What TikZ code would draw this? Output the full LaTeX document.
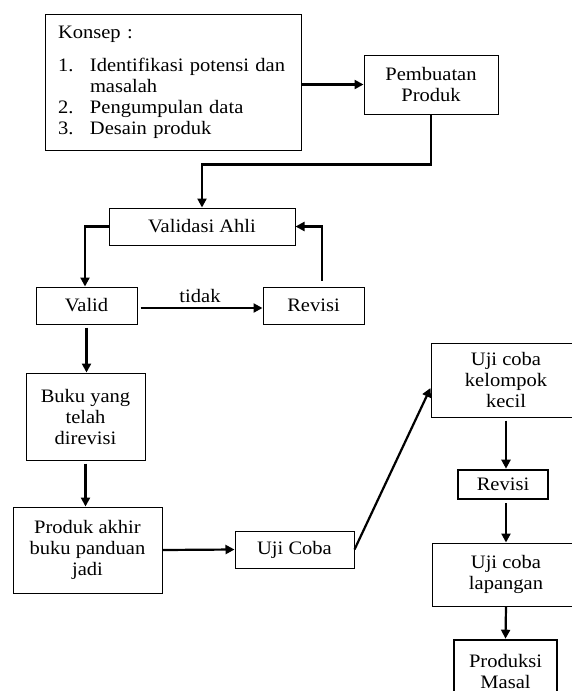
\documentclass[tikz,border=0pt]{standalone}
\usepackage{fontspec}
\setmainfont[FakeStretch=1.08]{Liberation Serif}
\usetikzlibrary{arrows.meta}

\begin{document}
\begin{tikzpicture}[x=1pt,y=-1pt,font=\fontsize{19}{21}\selectfont,
  box/.style={draw,line width=1pt,rectangle,align=center,inner sep=2pt},
  thickbox/.style={box,line width=2.6pt},
  arr/.style={line width=2.2pt,-{Triangle[length=9pt,width=9pt]}}]
  \useasboundingbox (0,0) rectangle (571,691);
  \node [box,minimum width=256pt,minimum height=136pt,text width=230pt,align=left] (konsep) at (173,82)
    {Konsep :\\[12pt]
     \makebox[32pt][l]{1.}Identifikasi potensi dan\\
     \hspace*{32pt}masalah\\
     \makebox[32pt][l]{2.}Pengumpulan data\\
     \makebox[32pt][l]{3.}Desain produk};
  \node [box,minimum width=134pt,minimum height=59pt] (pembuatan) at (431,84.5) {Pembuatan\\Produk};
  \node [box,minimum width=186pt,minimum height=37pt] (validasi) at (202,226.5) {Validasi Ahli};
  \node [box,minimum width=101pt,minimum height=37pt] (valid) at (86.5,305.5) {Valid};
  \node [box,minimum width=101pt,minimum height=37pt] (revisi) at (313.5,305.5) {Revisi};
  \node [box,minimum width=119pt,minimum height=87pt] (buku) at (85.5,416.5) {Buku yang\\telah\\direvisi};
  \node [box,minimum width=149pt,minimum height=86pt] (produk) at (87.5,550) {Produk akhir\\buku panduan\\jadi};
  \node [box,minimum width=119pt,minimum height=37pt] (ujicoba) at (294.5,549.5) {Uji Coba};
  \node [box,minimum width=150pt,minimum height=74pt] (kelompok) at (506,380) {Uji coba\\kelompok\\kecil};
  \node [thickbox,minimum width=90pt,minimum height=29pt] (revisiuji) at (503,484.5) {Revisi};
  \node [box,minimum width=148pt,minimum height=63pt] (lapangan) at (506,574.5) {Uji coba\\lapangan};
  \node [thickbox,minimum width=103pt,minimum height=62pt] (produksi) at (505.5,671) {Produksi\\Masal};
  \draw [arr] (konsep.east |- pembuatan.west) -- (pembuatan.west);
  \draw [arr] (pembuatan.south) -- ++(0,50) -| (validasi.north);
  \draw [arr] (validasi.west) -| ([xshift=-1.5pt]valid.north);
  \draw [arr,shorten <=3pt] ([yshift=-2.5pt]valid.east) -- ([yshift=-2.5pt]revisi.west)
    node [midway,above=1pt] (tidak) {tidak};
  \draw [arr] ([xshift=8.5pt,yshift=6pt]revisi.north) |- (validasi.east);
  \draw [arr,shorten <=3pt] (valid.south) -- (valid.south |- buku.north);
  \draw [arr,shorten <=3pt] (buku.south) -- (buku.south |- produk.north);
  \draw [arr] (produk.east) -- (ujicoba.west);
  \draw [arr] (ujicoba.east) -- ([yshift=-8pt]kelompok.west);
  \draw [arr,shorten <=3pt] (kelompok.south) -- (kelompok.south |- revisiuji.north);
  \draw [arr,shorten <=3pt] (lapangan.north |- revisiuji.south) -- (lapangan.north);
  \draw [arr] (lapangan.south) -- (produksi.north);
\end{tikzpicture}
\end{document}
